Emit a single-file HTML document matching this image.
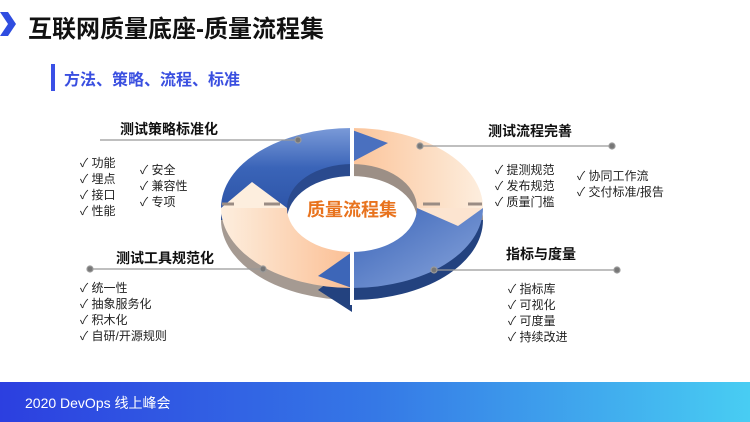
<!DOCTYPE html>
<html><head><meta charset="utf-8"><style>
body{margin:0;width:750px;height:422px;overflow:hidden;background:#fff;position:relative;font-family:"Liberation Sans","Noto Sans CJK SC",sans-serif;}
.a{position:absolute;white-space:nowrap;}
.h{font-weight:bold;font-size:14px;color:#111;}
.li{font-size:12px;color:#222;line-height:16px;}
</style></head><body>
<svg class="a" style="left:0;top:0" width="750" height="422">
<defs>
<linearGradient id="bl" x1="0" y1="0" x2="0" y2="1"><stop offset="0" stop-color="#7a9ad8"/><stop offset=".5" stop-color="#3a64b8"/><stop offset="1" stop-color="#2e55a8"/></linearGradient>
<linearGradient id="bl2" x1="0" y1="0" x2="1" y2="1"><stop offset="0" stop-color="#3a64b8"/><stop offset="1" stop-color="#8aa6dc"/></linearGradient>
<linearGradient id="pc" x1="0" y1="0" x2="1" y2="0"><stop offset="0" stop-color="#fbc49a"/><stop offset="1" stop-color="#fdeede"/></linearGradient>
<linearGradient id="pc2" x1="0" y1="0" x2="1" y2="0"><stop offset="0" stop-color="#fdeede"/><stop offset="1" stop-color="#fbbf94"/></linearGradient>
<linearGradient id="ft" x1="0" y1="0" x2="1" y2="0"><stop offset="0" stop-color="#2c3fe0"/><stop offset=".5" stop-color="#3578e6"/><stop offset="1" stop-color="#48cdf3"/></linearGradient>
</defs>
<path d="M0 12 L8 12 L16 24 L8 36 L0 36 L8 24 Z" fill="#2f4de0"/>
<rect x="51" y="64" width="4" height="27" fill="#3a50e6"/>
<g transform="translate(0,12)">
<path d="M221,208 A131,80 0 0 1 352,128 L352,164 A65,44 0 0 0 287,208 Z" fill="#2a4a8e"/>
<path d="M352,128 A131,80 0 0 1 483,208 L417,208 A65,44 0 0 0 352,164 Z" fill="#9c8f86"/>
<path d="M483,208 A131,80 0 0 1 352,288 L352,252 A65,44 0 0 0 417,208 Z" fill="#23427f"/>
<path d="M352,288 A131,80 0 0 1 221,208 L287,208 A65,44 0 0 0 352,252 Z" fill="#a59a92"/>
<path d="M352,252 L318,278 L352,300 Z" fill="#23427f"/>
</g>
<path d="M221,208 A131,80 0 0 1 352,128 L352,164 A65,44 0 0 0 287,208 Z" fill="url(#bl)"/>
<path d="M352,128 A131,80 0 0 1 483,208 L417,208 A65,44 0 0 0 352,164 Z" fill="url(#pc)"/>
<path d="M483,208 A131,80 0 0 1 352,288 L352,252 A65,44 0 0 0 417,208 Z" fill="url(#bl2)"/>
<path d="M352,288 A131,80 0 0 1 221,208 L287,208 A65,44 0 0 0 352,252 Z" fill="url(#pc2)"/>
<path d="M352,130 L388,143 L352,162 Z" fill="#4a70bf"/>
<path d="M483,208 L458,226 L417,208 Z" fill="#fce4d0"/>
<path d="M352,252 L318,276 L352,288 Z" fill="#3d66b8"/>
<path d="M221,208 L252,182 L287,208 Z" fill="#fdeede"/>
<line x1="352" y1="122" x2="352" y2="305" stroke="#fff" stroke-width="4"/>
<g stroke="#9a8c84" stroke-width="3">
<line x1="222" y1="204" x2="234" y2="204"/><line x1="264" y1="204" x2="280" y2="204"/>
<line x1="423" y1="204" x2="440" y2="204"/><line x1="468" y1="204" x2="482" y2="204"/>
</g>
<g stroke="#999" stroke-width="1.2" fill="#777">
<line x1="100" y1="140" x2="298" y2="140"/><circle cx="298" cy="140" r="3"/>
<line x1="420" y1="146" x2="612" y2="146"/><circle cx="420" cy="146" r="3"/><circle cx="612" cy="146" r="3"/>
<line x1="90" y1="269" x2="263" y2="269"/><circle cx="90" cy="269" r="3"/><circle cx="263" cy="269" r="3"/>
<line x1="434" y1="270" x2="617" y2="270"/><circle cx="434" cy="270" r="3"/><circle cx="617" cy="270" r="3"/>
</g>
<rect x="0" y="382" width="750" height="40" fill="url(#ft)"/>
</svg>
<div class="a" style="left:28px;top:9px;font-size:24px;font-weight:bold;color:#111;">互联网质量底座-质量流程集</div>
<div class="a" style="left:64px;top:66px;font-size:16px;font-weight:bold;color:#3a4fe0;">方法、策略、流程、标准</div>
<div class="a" style="left:307px;top:196px;font-size:18px;font-weight:bold;color:#e8731e;">质量流程集</div>
<div class="a h" style="left:120px;top:119px;">测试策略标准化</div>
<div class="a h" style="left:488px;top:121px;">测试流程完善</div>
<div class="a h" style="left:116px;top:248px;">测试工具规范化</div>
<div class="a h" style="left:506px;top:244px;">指标与度量</div>
<div class="a li" style="left:80px;top:155px;">✓ 功能<br>✓ 埋点<br>✓ 接口<br>✓ 性能</div>
<div class="a li" style="left:140px;top:162px;">✓ 安全<br>✓ 兼容性<br>✓ 专项</div>
<div class="a li" style="left:495px;top:162px;">✓ 提测规范<br>✓ 发布规范<br>✓ 质量门槛</div>
<div class="a li" style="left:577px;top:168px;">✓ 协同工作流<br>✓ 交付标准/报告</div>
<div class="a li" style="left:80px;top:280px;">✓ 统一性<br>✓ 抽象服务化<br>✓ 积木化<br>✓ 自研/开源规则</div>
<div class="a li" style="left:508px;top:281px;">✓ 指标库<br>✓ 可视化<br>✓ 可度量<br>✓ 持续改进</div>
<div class="a" style="left:25px;top:393px;font-size:14px;color:#fff;">2020 DevOps 线上峰会</div>
</body></html>
